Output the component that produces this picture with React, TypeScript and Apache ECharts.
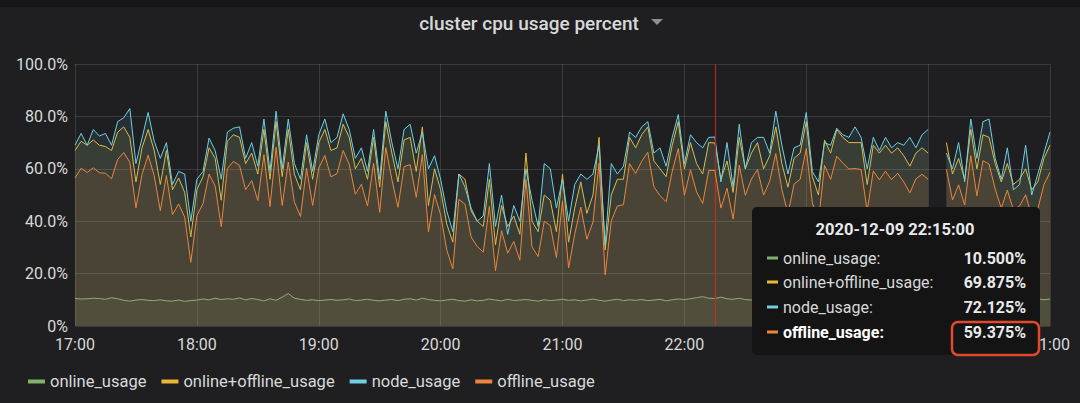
import React, { useEffect, useRef } from 'react';
import * as echarts from 'echarts';

const START_HOUR = 17;
const STEP_MINUTES = 3;
const X_MAX_MINUTES = 480;
const HOVER_MINUTE = 315;
// hour labels hidden behind the tooltip in the reference
const HIDDEN_HOUR_LABELS = ['23:00', '00:00'];

const SERIES_NAMES = ['online_usage', 'online+offline_usage', 'node_usage', 'offline_usage'];
const SERIES_COLORS = ['#7eb26d', '#eab839', '#6ed0e0', '#ef843c'];

const onlineUsage = [
  10.5, 10.3, 10.4, 10.6, 10.5, 10.2, 10.8, 10.4, 9.8, 9.5, 9.9, 10.1, 9.8, 9.7, 10.0, 9.6, 9.5, 9.9, 9.4, 9.7, 9.9,
  10.3, 10.0, 10.6, 10.1, 10.4, 10.2, 10.7, 10.0, 10.5, 10.1, 9.6, 10.4, 9.8, 11.0, 12.4, 10.6, 10.2, 9.8, 10.0, 9.7,
  9.9, 10.1, 9.8, 10.0, 10.3, 9.7, 9.9, 10.2, 9.8, 9.6, 9.9, 10.1, 9.7, 10.2, 10.4, 9.9, 10.6, 10.1, 9.8, 9.6,
  9.9, 10.2, 9.7, 9.5, 10.0, 9.6, 9.8, 10.3, 9.9, 9.6, 10.2, 9.7, 9.9, 10.1, 9.8, 9.5, 10.0, 9.7, 9.9, 10.2,
  9.8, 10.0, 9.6, 9.9, 10.3, 9.8, 9.5, 9.9, 10.2, 9.7, 10.0, 9.8, 10.1, 9.7, 9.9, 10.2, 9.6, 10.0, 10.3, 10.1,
  10.4, 10.8, 11.2, 10.6, 10.5, 11.0, 10.4, 10.2, 10.6, 10.1, 9.9, 10.3, 10.0, 9.7, 10.2, 9.9, 10.1, 9.8, 10.0, 10.3,
  9.9, 10.1, 9.7, 10.0, 10.2, 9.8, 10.1, 9.9, 10.3, 10.0, 9.8, 10.2, 9.9, 10.1, 9.7, 10.0, 10.2, 9.8, 10.1, 10.0,
  null, null,
  10.2, 9.9, 10.1, 9.8, 10.0, 10.3, 9.9, 10.2, 9.7, 10.0, 10.1, 9.8, 10.2, 9.9, 10.1, 10.4, 10.0, 10.3,
];

const onlinePlusOffline = [
  67, 70.5, 69, 71, 69, 68.5, 67, 74, 76, 72, 55, 68, 75, 67, 54, 67, 52, 56.5, 51, 34, 52, 57, 68, 64, 48, 70.5, 73,
  72, 62, 66, 58, 75, 56, 78, 57, 75, 58, 52, 70, 56, 70, 75, 67, 68, 77, 72, 60, 64, 56, 72, 53, 78, 66,
  55, 71, 72, 59, 76, 46, 60, 52, 39, 32, 58, 56, 44, 40, 38, 56, 31, 46, 38, 42, 35, 66, 40, 36, 50,
  48, 36, 58, 32, 45, 55, 43, 50, 72, 29, 50, 56, 56, 72, 68, 73, 76, 63, 60, 57, 69, 78, 60, 70, 62, 58, 70,
  69.875,
  56, 63, 51, 72, 60, 66, 70, 60, 65, 76, 62, 53, 64, 66, 78, 57, 50, 71, 66, 75, 72, 70, 70, 70, 54, 69, 66,
  69, 66, 68, 65, 61, 66, 68, 66,
  null, null,
  70, 58, 64, 56, 75, 60, 73, 72, 62, 55, 62, 54, 56, 60, 52, 55, 64, 69,
];

const nodeUsage = [
  69, 73.5, 69, 75, 72.5, 73.5, 69, 78, 79.5, 83, 62, 71.7, 81.5, 70.5, 64, 70, 54, 59, 58, 40, 56, 59, 71.7, 67, 56, 74, 75.5,
  76, 64, 70, 61, 79, 59, 82, 60, 79, 62, 56, 73, 59, 73, 79, 70, 72, 81, 75, 64, 68, 59, 75, 56, 82, 70,
  60, 75, 77, 66, 74, 60, 65, 56, 44, 36, 58, 53, 45, 40, 42, 62, 38, 50, 35, 46, 40, 60, 48, 38, 62,
  60, 45, 56, 40, 54, 58, 56, 58, 69, 31, 62, 58, 61, 74, 72, 76, 78, 66, 68, 61, 72, 80.7, 62, 73, 70, 68, 72,
  72.125,
  55, 70, 53, 77, 60, 70, 72, 72, 66, 82, 69, 58, 68, 69, 81.5, 59, 55, 70, 69, 75.5, 73, 72, 76, 72, 60, 72, 67,
  72, 68, 70, 69, 72, 68, 73, 75,
  null, null,
  66, 60, 70, 55, 79, 64, 78, 79, 64, 56, 68, 52, 54, 69, 50, 58, 66, 74,
];

const offlineUsage = [
  56.5, 60.2, 58.6, 60.4, 58.5, 58.3, 56.2, 63.6, 66.2, 62.5, 45.1, 57.9, 65.2, 57.3, 44, 57.4, 42.5, 46.6, 41.6, 24.3, 42.1, 46.7, 58, 53.4, 37.9, 60.1, 62.8,
  61.3, 52, 55.5, 47.9, 65.4, 45.6, 68.2, 46, 62.6, 47.4, 41.8, 60.2, 46, 60.3, 65.1, 56.9, 58.2, 67, 61.7, 50.3, 54.1, 45.8, 62.2, 43.4, 68.1, 55.9,
  45.3, 60.8, 61.6, 49.1, 65.4, 35.9, 50.2, 42.4, 29.1, 21.8, 48.3, 46.5, 34, 30.4, 28.2, 45.7, 21.1, 36.4, 27.8, 32.3, 25.1, 55.9, 30.2, 26.5, 40,
  38.3, 26.1, 47.8, 22.2, 35, 45.4, 33.1, 39.7, 62.2, 19.5, 40.1, 45.8, 46.3, 62, 58.2, 62.9, 66.3, 53.1, 49.8, 47.4, 59, 67.7, 49.9, 59.6, 51.2, 46.8, 59.4,
  59.375,
  45, 52.6, 40.8, 61.4, 49.9, 56.1, 59.7, 50, 55.3, 65.8, 52.1, 42.9, 54.2, 56, 67.7, 47.1, 39.9, 61.3, 56, 64.8, 62.2, 59.9, 60.1, 59.7, 44, 59.2, 55.8,
  59.1, 55.9, 58.3, 55, 50.8, 56.2, 57.9, 56,
  null, null,
  59.8, 48.1, 53.9, 46.2, 65, 49.7, 63.1, 61.8, 52.3, 45, 51.9, 44.2, 45.8, 50.1, 41.9, 44.6, 54, 58.7,
];

const TITLE = 'cluster cpu usage percent';
const TOOLTIP_TITLE = '2020-12-09 22:15:00';
const TOOLTIP_VALUES = ['10.500%', '69.875%', '72.125%', '59.375%'];

const LABEL_COLOR = '#d8d9da';
const FONT = 'Roboto, sans-serif';

function formatHour(v: number): string {
  const h = (START_HOUR + Math.round(v / 60)) % 24;
  const label = String(h).padStart(2, '0') + ':00';
  return HIDDEN_HOUR_LABELS.includes(label) ? '' : label;
}

function formatPercent(v: number): string {
  return v === 0 ? '0%' : v.toFixed(1) + '%';
}

export default function App() {
  const ref = useRef<HTMLDivElement>(null);

  useEffect(() => {
    if (!ref.current) return;
    const chart = echarts.init(ref.current, undefined, { renderer: 'svg' });
    const seriesValues = [onlineUsage, onlinePlusOffline, nodeUsage, offlineUsage];
    const toPairs = (vals: (number | null)[]) => vals.map((v, i) => [i * STEP_MINUTES, v]);

    const rowsY = [258, 282, 307, 332];
    const tooltipChildren: any[] = [
      { type: 'rect', shape: { x: 752, y: 207, width: 288, height: 148, r: 5 }, style: { fill: '#141415' }, z: 100 },
      {
        type: 'text', x: 895, y: 229, z: 101,
        style: { text: TOOLTIP_TITLE, fill: '#e9e9e9', font: `bold 16.5px ${FONT}`, textAlign: 'center', textVerticalAlign: 'middle', align: 'center', verticalAlign: 'middle' },
      },
    ];
    SERIES_NAMES.forEach((name, k) => {
      const bold = k === 3;
      tooltipChildren.push(
        { type: 'rect', shape: { x: 767, y: rowsY[k] - 1.5, width: 11, height: 3 }, style: { fill: SERIES_COLORS[k] }, z: 101 },
        {
          type: 'text', x: 783, y: rowsY[k], z: 101,
          style: { text: name + ':', fill: bold ? '#ffffff' : '#d8d9da', font: `${bold ? 'bold ' : ''}16px ${FONT}`, textAlign: 'left', textVerticalAlign: 'middle', align: 'left', verticalAlign: 'middle' },
        },
        {
          type: 'text', x: 1026, y: rowsY[k], z: 101,
          style: { text: TOOLTIP_VALUES[k], fill: '#e9e9e9', font: `bold 16px ${FONT}`, textAlign: 'right', textVerticalAlign: 'middle', align: 'right', verticalAlign: 'middle' },
        },
      );
    });
    tooltipChildren.push({
      type: 'rect', shape: { x: 952, y: 322, width: 87, height: 33, r: 6 },
      style: { fill: 'none', stroke: '#e2482b', lineWidth: 2.5 }, z: 102,
    });

    chart.setOption({
      animation: false,
      backgroundColor: '#1f1f21',
      textStyle: { fontFamily: FONT },
      grid: { left: 75, right: 30, top: 64, bottom: 77 },
      xAxis: {
        type: 'value', min: 0, max: X_MAX_MINUTES, interval: 60,
        axisLine: { show: false }, axisTick: { show: false },
        axisLabel: { color: LABEL_COLOR, fontSize: 16, margin: 10, formatter: formatHour },
        splitLine: { show: true, lineStyle: { color: 'rgba(255,255,255,0.12)', width: 1 } },
      },
      yAxis: {
        type: 'value', min: 0, max: 100, interval: 20,
        axisLine: { show: false }, axisTick: { show: false },
        axisLabel: { color: LABEL_COLOR, fontSize: 16, margin: 7, formatter: formatPercent },
        splitLine: { show: true, lineStyle: { color: 'rgba(255,255,255,0.12)', width: 1 } },
      },
      legend: {
        left: 28, top: 373, padding: 0, itemWidth: 17, itemHeight: 4, itemGap: 15, icon: 'rect',
        selectedMode: false, data: SERIES_NAMES,
        textStyle: { color: LABEL_COLOR, fontSize: 16.5, fontFamily: FONT },
      },
      series: SERIES_NAMES.map((name, k) => ({
        type: 'line', name, data: toPairs(seriesValues[k]),
        symbol: 'none', showSymbol: false, connectNulls: false, silent: true,
        lineStyle: { width: 1, color: SERIES_COLORS[k] },
        itemStyle: { color: SERIES_COLORS[k] },
        areaStyle: { color: SERIES_COLORS[k], opacity: 0.1 },
        emphasis: { disabled: true },
        z: 2 + k,
        markLine: k === 3 ? {
          silent: true, symbol: ['none', 'none'], label: { show: false },
          lineStyle: { color: '#b02a24', width: 1.2, type: 'solid', opacity: 1 },
          emphasis: { disabled: true },
          data: [{ xAxis: HOVER_MINUTE }],
        } : undefined,
      })),
      graphic: [
        { type: 'rect', shape: { x: 0, y: 0, width: 1080, height: 7 }, style: { fill: '#171719' }, z: 50 },
        {
          type: 'text', x: 529, y: 23, z: 50,
          style: { text: TITLE, fill: LABEL_COLOR, font: `500 19px ${FONT}`, textAlign: 'center', textVerticalAlign: 'middle', align: 'center', verticalAlign: 'middle' },
        },
        { type: 'polygon', shape: { points: [[651, 19], [663, 19], [657, 25]] }, style: { fill: '#8e8e8e' }, z: 50 },
        { type: 'group', children: tooltipChildren },
      ],
    });

    return () => chart.dispose();
  }, []);

  return <div ref={ref} style={{ position: 'fixed', left: 0, top: 0, width: 1080, height: 403 }} />;
}
